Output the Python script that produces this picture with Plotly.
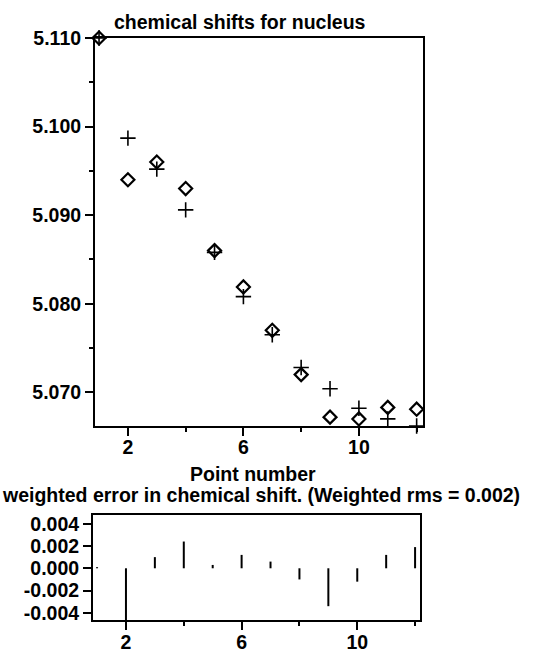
import plotly.graph_objects as go

# ---- data ----
points = list(range(1, 13))
observed = [5.1100, 5.0940, 5.0960, 5.0930, 5.0860, 5.0819, 5.0770, 5.0720, 5.0672, 5.0670, 5.0683, 5.0681]
calculated = [5.1100, 5.0987, 5.0952, 5.0906, 5.0858, 5.0808, 5.0765, 5.0728, 5.0704, 5.0682, 5.0670, 5.0662]
weighted_error = [0.0001, -0.0052, 0.0010, 0.0024, 0.0003, 0.0012, 0.0006, -0.0010, -0.0034, -0.0012, 0.0012, 0.0019]

top_yticks = [5.070, 5.080, 5.090, 5.100, 5.110]
top_yminor = [5.075, 5.085, 5.095, 5.105]
x_ticks = [2, 6, 10]
x_minor = [4, 8, 12]
err_ticks = [-0.004, -0.002, 0.000, 0.002, 0.004]
err_ticktext = ["-0.004", "-0.002", "0.000", "0.002", "0.004"]

title_top = "chemical shifts for nucleus"
xlabel = "Point number"
title_bottom = "weighted error in chemical shift. (Weighted rms = 0.002)"

W, H = 533, 653
FONT = "Arial, 'Liberation Sans', sans-serif"
FS = 19.5
TFONT = dict(family=FONT, size=FS, color="black", weight="bold")

def px_x(p):
    return p / W

def px_y(p):
    return 1 - p / H

# stems for the error plot
seg_x, seg_y = [], []
for p, e in zip(points, weighted_error):
    seg_x += [p, p, None]
    seg_y += [0, e, None]

fig = go.Figure()

fig.add_trace(go.Scatter(
    x=points, y=calculated, mode="markers", xaxis="x", yaxis="y",
    marker=dict(symbol="cross-thin-open", size=11, color="black",
                line=dict(color="black", width=1.6)),
    cliponaxis=False, showlegend=False))
fig.add_trace(go.Scatter(
    x=points, y=observed, mode="markers", xaxis="x", yaxis="y",
    marker=dict(symbol="diamond-open", size=10, color="black",
                line=dict(color="black", width=2.2)),
    cliponaxis=False, showlegend=False))

fig.add_trace(go.Scatter(
    x=seg_x, y=seg_y, mode="lines", xaxis="x2", yaxis="y2",
    line=dict(color="black", width=2), showlegend=False))

axis_common = dict(
    showgrid=False, zeroline=False, showline=True, linecolor="black", linewidth=2,
    mirror=True, ticks="outside", ticklen=8, tickwidth=1.5, tickcolor="black",
    tickfont=TFONT, automargin=False,
)
minor_common = dict(ticks="outside", ticklen=4, tickwidth=1.5, tickcolor="black")

fig.update_layout(
    width=W, height=H,
    margin=dict(l=0, r=0, t=0, b=0, pad=0),
    paper_bgcolor="white", plot_bgcolor="white",
    font=dict(family=FONT, size=FS, color="black"),
    showlegend=False,
    xaxis=dict(domain=[px_x(95), px_x(423)], range=[0.86, 12.22], anchor="y",
               tickvals=x_ticks, ticklabelstandoff=-5,
               minor=dict(tickvals=x_minor, **minor_common),
               **axis_common),
    yaxis=dict(domain=[px_y(426), px_y(38)], range=[5.0662, 5.1100], anchor="x",
               tickvals=top_yticks, tickformat=".3f",
               minor=dict(tickvals=top_yminor, **minor_common),
               **axis_common),
    xaxis2=dict(domain=[px_x(93), px_x(420)], range=[0.86, 12.17], anchor="y2",
                tickvals=x_ticks, ticklabelstandoff=-4,
                minor=dict(tickvals=x_minor, **minor_common),
                **axis_common),
    yaxis2=dict(domain=[px_y(620), px_y(515)], range=[-0.00464, 0.00478], anchor="x2",
                tickvals=err_ticks, ticktext=err_ticktext,
                **axis_common),
    annotations=[
        dict(text=title_top, x=px_x(240), y=px_y(22), xref="paper", yref="paper",
             xanchor="center", yanchor="middle", showarrow=False, font=TFONT),
        dict(text=xlabel, x=px_x(253), y=px_y(474), xref="paper", yref="paper",
             xanchor="center", yanchor="middle", showarrow=False, font=TFONT),
        dict(text=title_bottom, x=px_x(261), y=px_y(495), xref="paper", yref="paper",
             xanchor="center", yanchor="middle", showarrow=False, font=TFONT),
    ],
)

fig.write_html("out.html")
